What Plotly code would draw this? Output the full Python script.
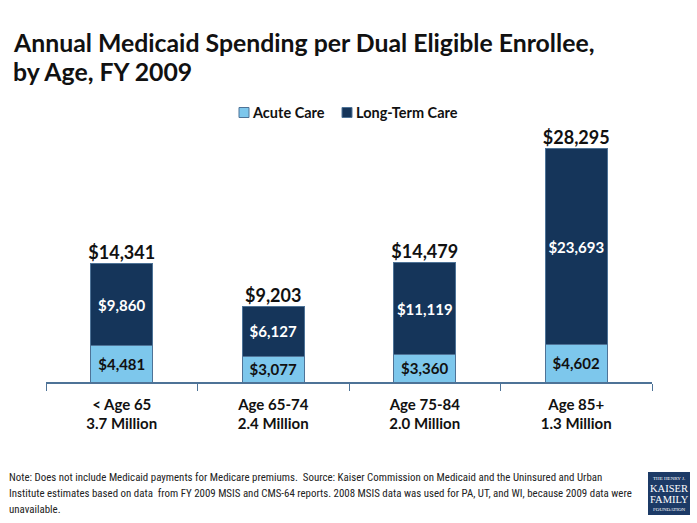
import plotly.graph_objects as go

categories = ["< Age 65<br>3.7 Million", "Age 65-74<br>2.4 Million", "Age 75-84<br>2.0 Million", "Age 85+<br>1.3 Million"]
acute_care = [4481, 3077, 3360, 4602]
long_term_care = [9860, 6127, 11119, 23693]
totals = [14341, 9203, 14479, 28295]
series_names = ["Acute Care", "Long-Term Care"]
title_lines = ["Annual Medicaid Spending per Dual Eligible Enrollee,", "by Age, FY 2009"]
note_lines = [
    "Note: Does not include Medicaid payments for Medicare premiums.  Source: Kaiser Commission on Medicaid and the Uninsured and Urban",
    "Institute estimates based on data  from FY 2009 MSIS and CMS-64 reports. 2008 MSIS data was used for PA, UT, and WI, because 2009 data were",
    "unavailable.",
]

FONT = "Lato"
LIGHT = "#7DC7EC"
DARK = "#15355A"
EDGE = "#4E7397"

W, H = 697, 523
ML, MR, MT, MB = 46, 45, 130, 141
PW, PH = W - ML - MR, H - MT - MB


def px2x(px):
    return (px - ML) / PW


def py2y(py):
    return (H - MB - py) / PH


fig = go.Figure()
fig.add_trace(go.Bar(
    name=series_names[0], x=categories, y=acute_care,
    marker=dict(color=LIGHT, line=dict(color=EDGE, width=1)),
    text=[f"${v:,}" for v in acute_care], textposition="inside",
    insidetextanchor="middle",
    textfont=dict(family=FONT, size=15, color="#111111", weight="bold"),
    width=0.41, showlegend=False,
))
fig.add_trace(go.Bar(
    name=series_names[1], x=categories, y=long_term_care,
    marker=dict(color=DARK, line=dict(color=EDGE, width=1)),
    text=[f"${v:,}" for v in long_term_care], textposition="inside",
    insidetextanchor="middle",
    textfont=dict(family=FONT, size=15, color="white", weight="bold"),
    width=0.41, showlegend=False,
))
fig.add_trace(go.Scatter(
    x=categories, y=totals, mode="text",
    text=[f"${v:,}" for v in totals], textposition="top center",
    textfont=dict(family=FONT, size=18, color="#111111", weight="bold"),
    showlegend=False, cliponaxis=False, hoverinfo="skip",
))

fig.update_layout(
    width=W, height=H,
    barmode="stack",
    plot_bgcolor="white", paper_bgcolor="white",
    margin=dict(l=ML, r=MR, t=MT, b=MB, autoexpand=False),
    showlegend=False,
    font=dict(family=FONT),
)
fig.update_xaxes(
    showline=True, linecolor=EDGE, linewidth=1.5,
    ticks="outside", tickson="boundaries", ticklen=7, tickcolor=EDGE, tickwidth=1,
    tickfont=dict(family=FONT, size=15, color="#111111", weight="bold"),
    ticklabelstandoff=8,
    showgrid=False, automargin=False,
)
fig.update_yaxes(range=[0, 30600], visible=False, showgrid=False, automargin=False)

# title
for line, cy in zip(title_lines, [43, 72]):
    fig.add_annotation(
        text=line, xref="paper", yref="paper", x=px2x(11), y=py2y(cy),
        xanchor="left", yanchor="middle", showarrow=False,
        font=dict(family=FONT, size=24.8, color="#111111", weight="bold"),
    )

# legend (manual)
legend_items = [(series_names[0], LIGHT, 239, 252), (series_names[1], DARK, 342, 356)]
for name, col, sx, tx in legend_items:
    fig.add_shape(type="rect", xref="paper", yref="paper",
                  x0=px2x(sx), x1=px2x(sx + 10), y0=py2y(117.5), y1=py2y(107.5),
                  fillcolor=col, line=dict(color=EDGE, width=1))
    fig.add_annotation(
        text=name, xref="paper", yref="paper", x=px2x(tx - 2), y=py2y(112.5),
        xanchor="left", yanchor="middle", showarrow=False,
        font=dict(family=FONT, size=14.5, color="#111111", weight="bold"),
    )

# footnote
for line, cy in zip(note_lines, [477, 493, 509]):
    fig.add_annotation(
        text=line, xref="paper", yref="paper", x=px2x(7), y=py2y(cy),
        xanchor="left", yanchor="middle", showarrow=False,
        font=dict(family="Liberation Sans Narrow, Roboto Condensed, Roboto", size=10.9, color="#222222"),
    )

# logo
fig.add_shape(type="rect", xref="paper", yref="paper", x0=px2x(648), x1=px2x(690), y0=py2y(515), y1=py2y(472),
              fillcolor="#1C3A66", line=dict(width=0))
for txt, cy, sz in [("THE HENRY J.", 478, 5), ("KAISER", 488.5, 10.5), ("FAMILY", 499.5, 10.5), ("FOUNDATION", 509.5, 5)]:
    fig.add_annotation(
        text=txt, xref="paper", yref="paper", x=px2x(669), y=py2y(cy),
        xanchor="center", yanchor="middle", showarrow=False,
        font=dict(family="Liberation Serif", size=sz, color="white"),
    )

fig.write_html("out.html", config={"displayModeBar": False})
with open("out.html", "r", encoding="utf-8") as f:
    html = f.read()
html = html.replace("<head>", "<head><style>html,body{margin:0;padding:0;overflow:hidden;}</style>", 1)
with open("out.html", "w", encoding="utf-8") as f:
    f.write(html)
